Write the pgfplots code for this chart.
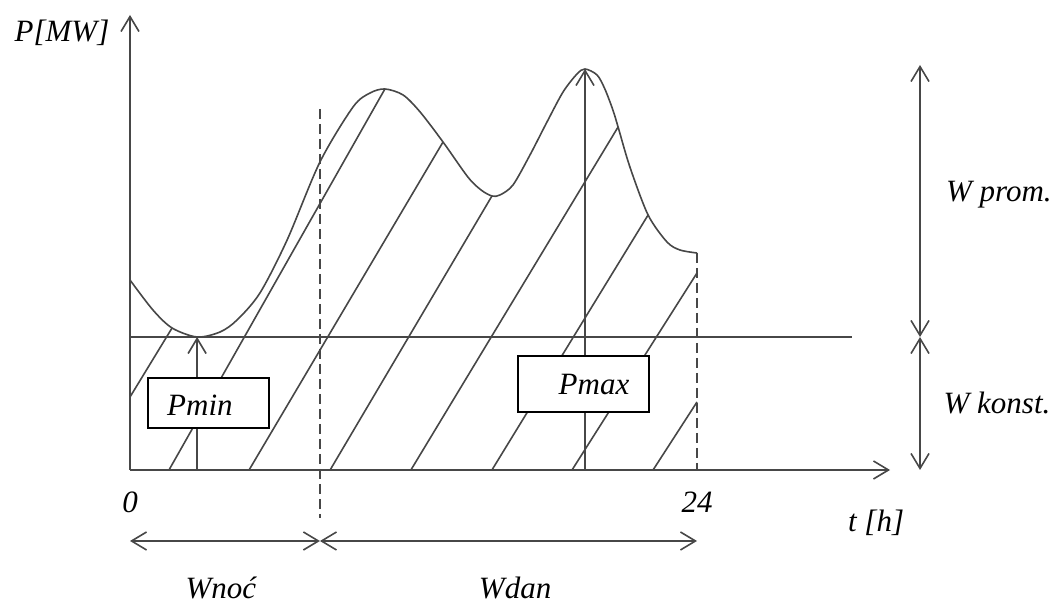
\documentclass[border=0pt]{standalone}
\usepackage{fontspec}
\setmainfont{Liberation Serif}
\usepackage{pgfplots}
\pgfplotsset{compat=1.18}
\usetikzlibrary{arrows.meta}
\definecolor{ink}{HTML}{474747}

\begin{document}
\begin{tikzpicture}[
  font=\fontsize{15.5}{18}\selectfont\itshape,
  barb/.style={-{Straight Barb[length=7.5pt,width=9pt]}},
  dbarb/.style={{Straight Barb[length=7.5pt,width=9pt]}-{Straight Barb[length=7.5pt,width=9pt]}},
  lin/.style={ink, line width=0.8pt},
  dsh/.style={ink, line width=0.8pt, dash pattern=on 5pt off 2.5pt},
]
\begin{axis}[
  x=11.8125pt, y=0.5pt,
  xmin=0, xmax=32.17, ymin=0, ymax=455,
  axis lines=none, clip=false,
]
  % load curve
  \addplot[lin, smooth, tension=0.5] coordinates {
    (0,190) (0.97,160) (1.78,142) (2.84,133) (3.81,138) (4.53,150)
    (5.50,177) (6.65,230) (8.04,308) (9.44,363) (10.16,377) (10.79,381)
    (11.56,375) (12.28,358) (13.25,328) (14.30,293) (14.86,280)
    (15.32,274) (15.66,275) (16.21,285) (16.93,315) (17.65,348)
    (18.33,378) (18.92,396) (19.26,401) (19.77,395) (20.10,381)
    (20.44,360) (20.66,343) (21.16,303) (21.93,255) (22.73,228)
    (23.28,220) (24,217)
  };
  % hatching
  \addplot[lin] coordinates {(0,73) (1.78,142)};
  \addplot[lin] coordinates {(1.65,0) (10.79,381)};
  \addplot[lin] coordinates {(5.04,0) (13.25,328)};
  \addplot[lin] coordinates {(8.47,0) (15.32,274)};
  \addplot[lin] coordinates {(11.89,0) (20.66,343)};
  \addplot[lin] coordinates {(15.32,0) (21.93,255)};
  \addplot[lin] coordinates {(18.71,0) (24,197)};
  \addplot[lin] coordinates {(22.14,0) (24,68)};
  % Pmin level
  \addplot[lin] coordinates {(0,133) (30.56,133)};
  % night / day border and end of day
  \addplot[dsh] coordinates {(8.04,361) (8.04,-48)};
  \addplot[dsh] coordinates {(24,217) (24,0)};

  % axes
  \draw[lin, barb] (axis cs:0,0) -- (axis cs:32.17,0);
  \draw[lin, barb] (axis cs:0,0) -- (axis cs:0,455);
  % Pmin, Pmax arrows
  \draw[lin, barb] (axis cs:2.84,0) -- (axis cs:2.84,133);
  \draw[lin, barb] (axis cs:19.26,0) -- (axis cs:19.26,401);
  % energy ranges
  \draw[lin, dbarb] (axis cs:33.44,405) -- (axis cs:33.44,133);
  \draw[lin, dbarb] (axis cs:33.44,133) -- (axis cs:33.44,0);
  \draw[lin, dbarb] (axis cs:0,-71) -- (axis cs:8.04,-71);
  \draw[lin, dbarb] (axis cs:8.04,-71) -- (axis cs:24,-71);

  % boxes
  \draw[black, line width=0.8pt, fill=white] (axis cs:0.76,42) rectangle (axis cs:5.88,92);
  \node at (axis cs:2.96,65) {Pmin};
  \draw[black, line width=0.8pt, fill=white] (axis cs:16.42,58) rectangle (axis cs:21.97,114);
  \node at (axis cs:19.64,85) {Pmax};

  % labels
  \node at (axis cs:-2.88,437) {P[MW]};
  \node at (axis cs:0,-32) {0};
  \node at (axis cs:24,-32) {24};
  \node at (axis cs:31.58,-53) {t [h]};
  \node at (axis cs:3.85,-118) {Wnoć};
  \node at (axis cs:16.30,-118) {Wdan};
  \node at (axis cs:36.78,275) {W prom.};
  \node at (axis cs:36.70,67) {W konst.};

  \coordinate (bl) at (axis cs:-5.503,-133);
  \coordinate (tr) at (axis cs:39.238,470);
\end{axis}
\pgfresetboundingbox
\path (bl) rectangle (tr);
\end{tikzpicture}
\end{document}
